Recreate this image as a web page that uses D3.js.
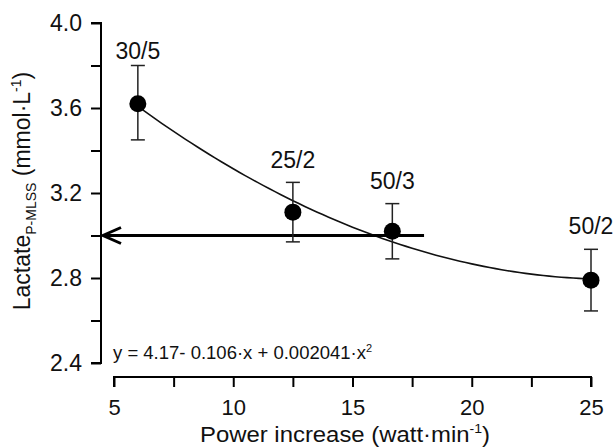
<!DOCTYPE html>
<html>
<head>
<meta charset="utf-8">
<script src="https://cdn.jsdelivr.net/npm/d3@7"></script>
<style>
  body { margin: 0; background: #fff; }
  svg { font-family: "Liberation Sans", Arial, sans-serif; }
</style>
</head>
<body>
<div class="graph-container"></div>
<script>
// data
const protocols = ['30/5', '25/2', '50/3', '50/2'];
const powerInc = [6, 12.5, 16.67, 25];
const lactate = [3.62, 3.11, 3.02, 2.79];
const errHigh = [3.80, 3.25, 3.15, 2.935];
const errLow = [3.45, 2.97, 2.89, 2.645];
const labelGap = [7, 14, 15, 15];
const fitCoef = [4.17, -0.106, 0.002041];
const arrowLevel = 3.0;
const arrowFrom = 18;
const xTicks = [5, 7.5, 10, 12.5, 15, 17.5, 20, 22.5, 25];
const yTicks = [2.4, 2.6, 2.8, 3.0, 3.2, 3.4, 3.6, 3.8, 4.0];

const [width, height] = [615, 447];
const x = d3.scaleLinear().domain([5, 25]).range([114, 591]);
const y = d3.scaleLinear().domain([2.4, 4.0]).range([363, 23]);
const axisX = 101, axisY = 377;

const svg = d3.select('div.graph-container')
    .append('svg')
    .attr('width', width)
    .attr('height', height);

// y axis
const gy = svg.append('g')
    .attr('transform', `translate(${axisX},0)`)
    .call(d3.axisLeft(y).tickValues(yTicks).tickSize(10)
        .tickFormat(d => (Math.round(d * 10) % 4 === 0) ? d3.format('.1f')(d) : ''));
gy.select('.domain').attr('d', `M-10,${y(4.0)}H0V${y(2.4)}H-10`).attr('stroke-width', 2);
gy.selectAll('.tick line').attr('stroke-width', 2);
gy.selectAll('.tick text').attr('font-size', 23).attr('x', -19).attr('fill', '#111');

// x axis (offset below)
const gx = svg.append('g')
    .attr('transform', `translate(0,${axisY})`)
    .call(d3.axisBottom(x).tickValues(xTicks).tickSize(10)
        .tickFormat(d => Number.isInteger(d) && d % 5 === 0 ? d : ''));
gx.select('.domain').attr('d', `M${x(5)},10V0H${x(25)}V10`).attr('stroke-width', 2);
gx.selectAll('.tick line').attr('stroke-width', 2);
gx.selectAll('.tick text').attr('font-size', 22).attr('y', 22).attr('fill', '#111');

// axis titles
svg.append('text')
    .attr('x', 345).attr('y', 442)
    .attr('text-anchor', 'middle')
    .attr('font-size', 22).attr('fill', '#111')
    .attr('textLength', 290).attr('lengthAdjust', 'spacingAndGlyphs')
    .html('Power increase (watt·min<tspan font-size="13" dy="-9">-1</tspan><tspan dy="9">)</tspan>');

svg.append('text')
    .attr('transform', 'translate(30,191) rotate(-90)')
    .attr('text-anchor', 'middle')
    .attr('font-size', 23).attr('fill', '#111')
    .html('Lactate<tspan font-size="14" dy="6">P-MLSS</tspan><tspan dy="-6"> (mmol·L</tspan><tspan font-size="14" dy="-9">-1</tspan><tspan dy="9">)</tspan>');

// fitted curve
const fit = v => fitCoef[0] + fitCoef[1] * v + fitCoef[2] * v * v;
const curveX = d3.range(powerInc[0], 25.001, 0.25);
svg.append('path')
    .datum(curveX)
    .attr('d', d3.line().x(d => x(d)).y(d => y(fit(d))))
    .attr('fill', 'none')
    .attr('stroke', '#111')
    .attr('stroke-width', 1.6);

// arrow at lactate 3.0
svg.append('line')
    .attr('x1', x(arrowFrom)).attr('x2', axisX + 2)
    .attr('y1', y(arrowLevel)).attr('y2', y(arrowLevel))
    .attr('stroke', '#000').attr('stroke-width', 3);
svg.append('path')
    .attr('d', `M${axisX + 20},${y(arrowLevel) - 8}L${axisX + 2},${y(arrowLevel)}L${axisX + 20},${y(arrowLevel) + 8}`)
    .attr('fill', 'none').attr('stroke', '#000').attr('stroke-width', 3)
    .attr('stroke-linejoin', 'miter');

// error bars and points
const pts = protocols.map((p, i) => ({ p, x: powerInc[i], y: lactate[i], hi: errHigh[i], lo: errLow[i], gap: labelGap[i] }));
const g = svg.append('g').selectAll('g').data(pts).join('g');
g.append('line')
    .attr('x1', d => x(d.x)).attr('x2', d => x(d.x))
    .attr('y1', d => y(d.hi)).attr('y2', d => y(d.lo))
    .attr('stroke', '#222').attr('stroke-width', 1.5);
g.selectAll('line.cap').data(d => [[d.x, d.hi], [d.x, d.lo]]).join('line')
    .attr('class', 'cap')
    .attr('x1', d => x(d[0]) - 7).attr('x2', d => x(d[0]) + 7)
    .attr('y1', d => y(d[1])).attr('y2', d => y(d[1]))
    .attr('stroke', '#222').attr('stroke-width', 1.5);
g.append('circle')
    .attr('cx', d => x(d.x)).attr('cy', d => y(d.y))
    .attr('r', 8.5).attr('fill', '#000');
g.append('text')
    .attr('x', d => x(d.x)).attr('y', d => y(d.hi) - d.gap)
    .attr('text-anchor', 'middle')
    .attr('font-size', 23).attr('fill', '#111')
    .text(d => d.p);

// fit equation
svg.append('text')
    .attr('x', 113).attr('y', 359)
    .attr('font-size', 18.5).attr('fill', '#111')
    .html('y = 4.17- 0.106·x + 0.002041·x<tspan font-size="11" dy="-7">2</tspan>');
</script>
</body>
</html>
